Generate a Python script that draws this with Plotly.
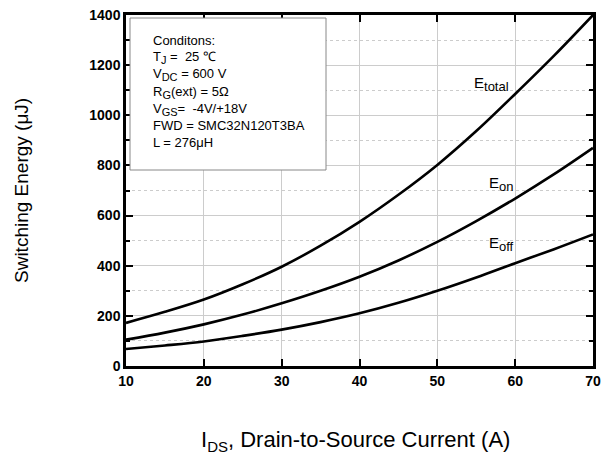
import plotly.graph_objects as go

x_current = [10, 15, 20, 25, 30, 35, 40, 45, 50, 55, 60, 65, 70]
e_total = [172, 216, 265, 326, 396, 480, 575, 683, 802, 937, 1085, 1238, 1400]
e_on = [105, 133, 166, 205, 250, 300, 356, 421, 495, 578, 668, 765, 870]
e_off = [68, 82, 98, 120, 145, 175, 210, 252, 300, 353, 410, 466, 525]

conditions = [
    "Conditons:",
    "T<sub><span style='font-size:11px'>J</span></sub> =  25 ℃",
    "V<sub><span style='font-size:11px'>DC</span></sub> = 600 V",
    "R<sub><span style='font-size:11px'>G</span></sub>(ext) = 5Ω",
    "V<sub><span style='font-size:11px'>GS</span></sub>=  -4V/+18V",
    "FWD = SMC32N120T3BA",
    "L = 276μH",
]

W, H = 603, 455
L, R, T, B = 126, 10, 15, 89
PW, PH = W - L - R, H - T - B

def px(xp):
    return (xp - L) / PW

def py(yp):
    return (H - B - yp) / PH

fig = go.Figure()
for ys in (e_total, e_on, e_off):
    fig.add_trace(go.Scatter(x=x_current, y=ys, mode="lines",
                             line=dict(color="black", width=2.6, shape="spline", smoothing=1.0),
                             hoverinfo="skip", showlegend=False))

fig.update_layout(
    width=W, height=H,
    margin=dict(l=L, r=R, t=T, b=B, autoexpand=False),
    paper_bgcolor="white", plot_bgcolor="white",
    font=dict(family="Liberation Sans, Arial, sans-serif", color="black"),
    showlegend=False,
)
fig.update_xaxes(
    range=[10, 70], tickvals=[10, 20, 30, 40, 50, 60, 70], automargin=False,
    ticks="inside", ticklen=7, tickwidth=2, tickcolor="black",
    showline=True, linecolor="black", linewidth=2.5, mirror="ticks",
    showgrid=True, gridcolor="#cccccc", gridwidth=1,
    tickfont=dict(size=14, family="Liberation Sans, Arial, sans-serif", weight="bold"),
    zeroline=False,
)
fig.update_yaxes(
    range=[0, 1400], tickvals=list(range(0, 1401, 200)), automargin=False,
    ticks="inside", ticklen=7, tickwidth=2, tickcolor="black",
    showline=True, linecolor="black", linewidth=2.5, mirror="ticks",
    showgrid=True, gridcolor="#cccccc", gridwidth=1,
    minor=dict(tickvals=list(range(100, 1400, 200)), ticks="inside", ticklen=4,
               tickwidth=1.5, tickcolor="black", showgrid=True, gridcolor="#cccccc",
               griddash="dot", gridwidth=1),
    tickfont=dict(size=14, family="Liberation Sans, Arial, sans-serif", weight="bold"),
    zeroline=False,
)

# conditions box
fig.add_shape(type="rect", xref="paper", yref="paper",
              x0=px(130), x1=px(326), y0=py(170), y1=py(18),
              fillcolor="white", line=dict(color="#888888", width=1), layer="above")
line_y = [40, 57, 75, 92, 109, 125, 142]
for txt, yy in zip(conditions, line_y):
    fig.add_annotation(text=txt, xref="paper", yref="paper", x=px(151), y=py(yy),
                       xanchor="left", yanchor="middle", showarrow=False,
                       font=dict(size=13, color="black"))

# curve labels
sub = "<sub><span style='font-size:13px'>%s</span></sub>"
for txt, xx, yy in [("E" + sub % "total", 472, 84), ("E" + sub % "on", 487, 184), ("E" + sub % "off", 487, 244)]:
    fig.add_annotation(text=txt, xref="paper", yref="paper", x=px(xx), y=py(yy),
                       xanchor="left", yanchor="middle", showarrow=False,
                       font=dict(size=15, color="black"))

# axis titles
fig.add_annotation(text="Switching Energy (μJ)", xref="paper", yref="paper",
                   x=px(22), y=py(191), textangle=-90, showarrow=False,
                   xanchor="center", yanchor="middle", font=dict(size=19, color="black"))
fig.add_annotation(text="I<sub><span style='font-size:15px'>DS</span></sub>, Drain-to-Source Current (A)",
                   xref="paper", yref="paper",
                   x=px(355), y=py(441), showarrow=False,
                   xanchor="center", yanchor="middle", font=dict(size=22, color="black"))

fig.write_html("out.html")
